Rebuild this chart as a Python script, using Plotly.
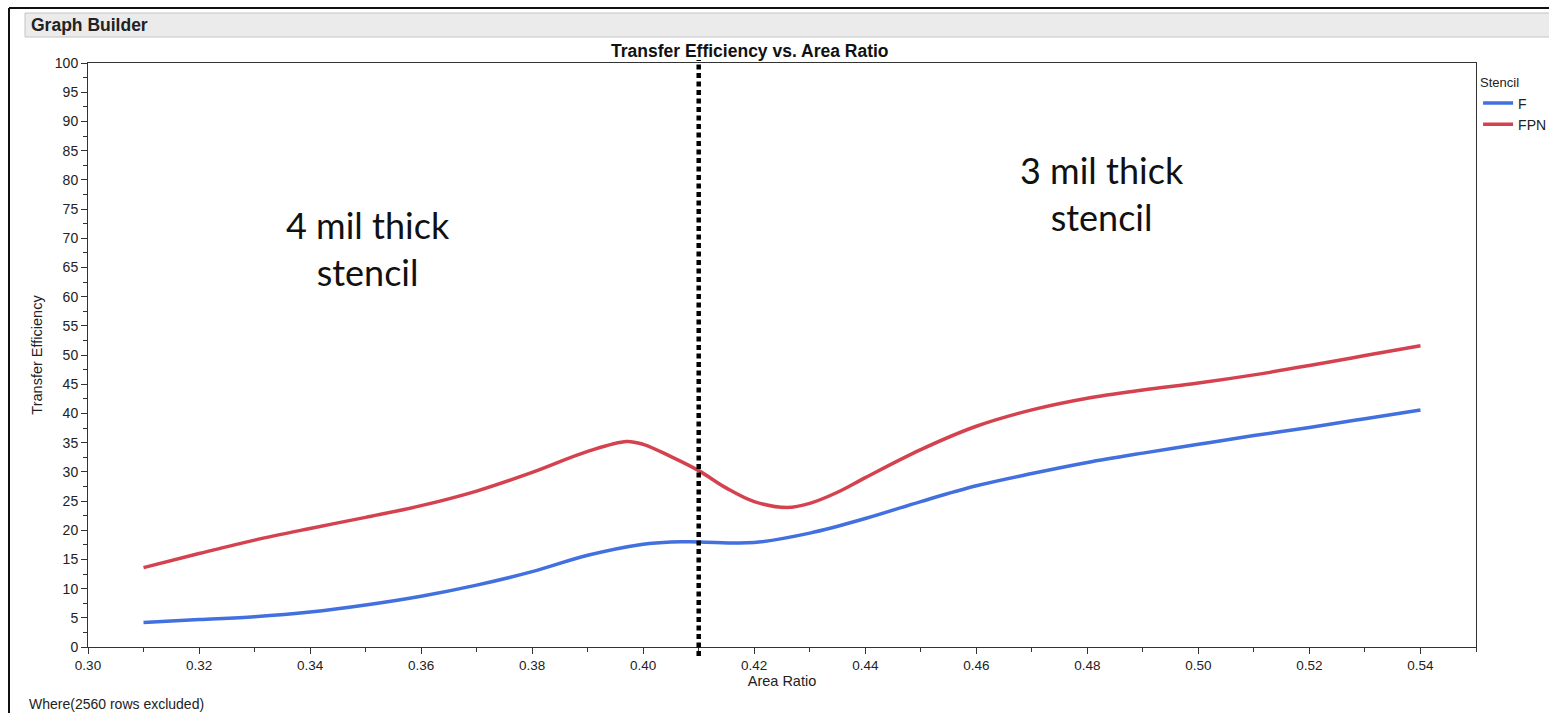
import plotly.graph_objects as go

# ---- data ----
x_fpn = [0.31, 0.32, 0.33, 0.34, 0.35, 0.36, 0.37, 0.38, 0.39, 0.397, 0.40, 0.405, 0.41, 0.415,
         0.42, 0.426, 0.43, 0.435, 0.44, 0.45, 0.46, 0.47, 0.48, 0.49, 0.50, 0.51, 0.52, 0.53, 0.54]
y_fpn = [13.6, 16.0, 18.3, 20.3, 22.2, 24.2, 26.7, 29.9, 33.5, 35.2, 34.7, 32.6, 30.2, 27.2,
         24.9, 23.9, 24.6, 26.5, 29.0, 33.8, 37.8, 40.6, 42.6, 44.0, 45.2, 46.6, 48.2, 49.9, 51.6]

x_f = [0.31, 0.32, 0.33, 0.34, 0.35, 0.36, 0.37, 0.38, 0.39, 0.40, 0.405, 0.41, 0.42, 0.43,
       0.44, 0.45, 0.46, 0.47, 0.48, 0.49, 0.50, 0.51, 0.52, 0.53, 0.54]
y_f = [4.2, 4.7, 5.2, 6.0, 7.2, 8.7, 10.6, 12.9, 15.7, 17.6, 18.0, 18.0, 17.9, 19.5,
       22.0, 24.9, 27.6, 29.7, 31.6, 33.2, 34.7, 36.2, 37.6, 39.1, 40.6]

divider_x = 0.41
region_labels = ["4 mil thick<br>stencil", "3 mil thick<br>stencil"]
region_pos = [(0.3505, 68.2), (0.4827, 77.7)]

BLUE = "#4270DE"
RED = "#D5424F"
FONT = "Liberation Sans, Arial, sans-serif"

W, H = 1549, 713
L, R, T, B = 88, 1476, 63, 647
pw, ph = R - L, B - T


def px_x(p):
    return (p - L) / pw


def px_y(p):
    return (B - p) / ph


fig = go.Figure()
fig.add_trace(go.Scatter(x=x_f, y=y_f, mode="lines", name="F",
                         line=dict(color=BLUE, width=3.5, shape="spline", smoothing=1.0)))
fig.add_trace(go.Scatter(x=x_fpn, y=y_fpn, mode="lines", name="FPN",
                         line=dict(color=RED, width=3.5, shape="spline", smoothing=1.0)))

shapes = [
    # outer frame
    dict(type="line", xref="paper", yref="paper", x0=px_x(9), x1=px_x(9), y0=px_y(8), y1=px_y(713),
         line=dict(color="#111", width=2)),
    dict(type="line", xref="paper", yref="paper", x0=px_x(9), x1=px_x(1549), y0=px_y(8), y1=px_y(8),
         line=dict(color="#111", width=2)),
    # header bar
    dict(type="rect", xref="paper", yref="paper", x0=px_x(25), x1=px_x(1560), y0=px_y(13), y1=px_y(37),
         fillcolor="#EBEBEB", line=dict(color="#C4C4C4", width=1), layer="below"),
    # divider line
    dict(type="line", xref="x", yref="paper", x0=divider_x, x1=divider_x, y0=px_y(656), y1=px_y(60),
         line=dict(color="black", width=4.5, dash="5px,3.5px")),
]

annotations = [
    dict(text="<b>Graph Builder</b>", xref="paper", yref="paper", x=px_x(29), y=px_y(25),
         xanchor="left", yanchor="middle", showarrow=False,
         font=dict(family=FONT, size=17.5, color="#222")),
    dict(text="<b>Transfer Efficiency vs. Area Ratio</b>", xref="paper", yref="paper",
         x=px_x(750), y=px_y(51), xanchor="center", yanchor="middle", showarrow=False,
         font=dict(family=FONT, size=17.5, color="#111")),
    dict(text="Where(2560 rows excluded)", xref="paper", yref="paper", x=px_x(27), y=px_y(704),
         xanchor="left", yanchor="middle", showarrow=False,
         font=dict(family=FONT, size=14, color="#222")),
]
for txt, (ax, ay) in zip(region_labels, region_pos):
    annotations.append(dict(text=txt, x=ax, y=ay, xref="x", yref="y", showarrow=False,
                            xanchor="center", yanchor="middle",
                            font=dict(family="Lato, Open Sans, sans-serif", size=36, color="#111")))

fig.update_layout(
    width=W, height=H,
    margin=dict(l=L, r=W - R, t=T, b=H - B, pad=0, autoexpand=False),
    paper_bgcolor="white", plot_bgcolor="white",
    font=dict(family=FONT, size=12, color="#222"),
    shapes=shapes, annotations=annotations,
    legend=dict(title=dict(text="Stencil", font=dict(size=13)), x=1.0015, y=0.987,
                xanchor="left", yanchor="top", font=dict(size=14), itemwidth=30,
                bgcolor="rgba(0,0,0,0)", tracegroupgap=0),
    showlegend=True,
)
fig.update_xaxes(range=[0.30, 0.55], tickvals=[0.30, 0.32, 0.34, 0.36, 0.38, 0.40, 0.42, 0.44,
                                                0.46, 0.48, 0.50, 0.52, 0.54],
                 tickformat=".2f", ticks="outside", ticklen=6, tickcolor="#333",
                 minor=dict(dtick=0.01, tick0=0.30, ticks="outside", ticklen=4, tickcolor="#333"),
                 showline=True, linecolor="#333", linewidth=1, mirror=True, showgrid=False,
                 zeroline=False, title=dict(text="Area Ratio", standoff=3, font=dict(size=14.5)),
                 tickfont=dict(size=13.5))
fig.update_yaxes(range=[0, 100], dtick=5, tick0=0, ticks="outside", ticklen=6, tickcolor="#333",
                 minor=dict(dtick=2.5, tick0=0, ticks="outside", ticklen=4, tickcolor="#333"),
                 showline=True, linecolor="#333", linewidth=1, mirror=True, showgrid=False,
                 zeroline=False, title=dict(text="Transfer Efficiency", standoff=8, font=dict(size=14.5)),
                 tickfont=dict(size=14))

fig.write_html("out.html", config={"displayModeBar": False},
               post_script="document.body.style.margin='0px';")
